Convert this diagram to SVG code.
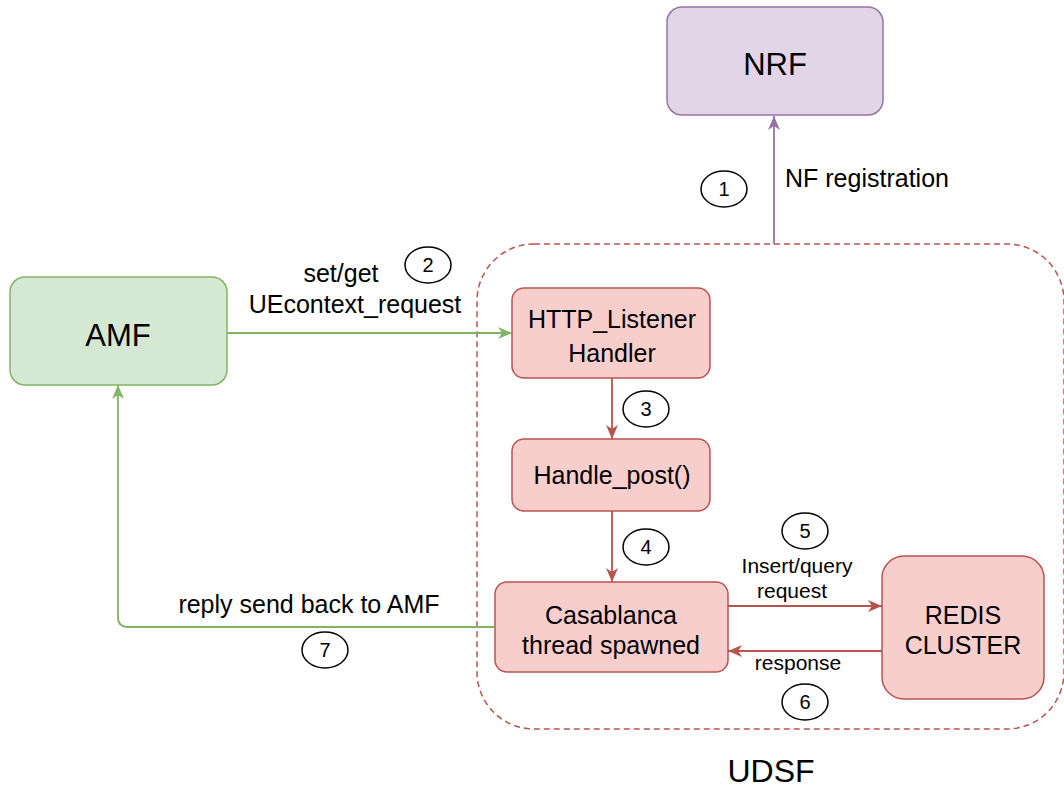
<svg xmlns="http://www.w3.org/2000/svg" width="1064" height="787" viewBox="0 0 1064 787">
<style>
text{font-family:"Liberation Sans",Arial,sans-serif;fill:#000;text-anchor:middle}
.lbl{font-size:25px}
.big{font-size:31px}
.num{font-size:20px}
.sm{font-size:21px}
.red{fill:#f8cecc;stroke:#b85450;stroke-width:1.5}
.c{fill:#fff;stroke:#000;stroke-width:1.5}
.e{fill:none;stroke-width:1.8}
</style>
<defs>
<marker id="ap" markerUnits="userSpaceOnUse" markerWidth="14" markerHeight="12" refX="14" refY="6" orient="auto"><path d="M0,0 L14,6 L0,12 L4,6 Z" fill="#9673a6"/></marker>
<marker id="ag" markerUnits="userSpaceOnUse" markerWidth="14" markerHeight="12" refX="14" refY="6" orient="auto"><path d="M0,0 L14,6 L0,12 L4,6 Z" fill="#82b366"/></marker>
<marker id="ar" markerUnits="userSpaceOnUse" markerWidth="14" markerHeight="12" refX="14" refY="6" orient="auto"><path d="M0,0 L14,6 L0,12 L4,6 Z" fill="#b85450"/></marker>
</defs>
<rect width="1064" height="787" fill="#fff"/>
<g id="udsf">
<rect x="477" y="244" width="587" height="485" rx="57" fill="none" stroke="#b85450" stroke-width="1.5" stroke-dasharray="6 4"/>
<text x="771" y="782" style="font-size:32px">UDSF</text>
</g>
<g id="nrf">
<rect x="667" y="7" width="216" height="108" rx="15" fill="#e1d5e7" stroke="#9673a6" stroke-width="1.5"/>
<text class="big" x="775" y="75">NRF</text>
</g>
<g id="amf">
<rect x="10" y="277" width="217" height="108" rx="15" fill="#d5e8d4" stroke="#82b366" stroke-width="1.5"/>
<text class="big" x="118" y="346">AMF</text>
</g>
<g id="http">
<rect class="red" x="512" y="288" width="198" height="90" rx="12"/>
<text class="lbl" x="612" y="328">HTTP_Listener</text>
<text class="lbl" x="612" y="362">Handler</text>
</g>
<g id="handlepost">
<rect class="red" x="512" y="439" width="198" height="72" rx="12"/>
<text class="lbl" x="612" y="484">Handle_post()</text>
</g>
<g id="casablanca">
<rect class="red" x="495" y="582" width="233" height="90" rx="12"/>
<text class="lbl" x="611" y="624">Casablanca</text>
<text class="lbl" x="611" y="654">thread spawned</text>
</g>
<g id="redis">
<rect class="red" x="882" y="556" width="162" height="143" rx="22"/>
<text class="lbl" x="963" y="624">REDIS</text>
<text class="lbl" x="963" y="654">CLUSTER</text>
</g>
<g id="connectors">
<path class="e" d="M774,244 V116" stroke="#9673a6" marker-end="url(#ap)"/>
<path class="e" d="M227,333 H512" stroke="#82b366" marker-end="url(#ag)"/>
<path class="e" d="M612,378 V439" stroke="#b85450" marker-end="url(#ar)"/>
<path class="e" d="M612,511 V582" stroke="#b85450" marker-end="url(#ar)"/>
<path class="e" d="M728,606 H882" stroke="#b85450" marker-end="url(#ar)"/>
<path class="e" d="M882,651 H728" stroke="#b85450" marker-end="url(#ar)"/>
<path class="e" d="M495,627 H128 Q118,627 118,617 V385" stroke="#82b366" marker-end="url(#ag)"/>
<text class="lbl" x="785" y="187" style="text-anchor:start">NF registration</text>
<text class="lbl" x="341" y="282">set/get</text>
<text class="lbl" x="355" y="313">UEcontext_request</text>
<text class="sm" x="797" y="573">Insert/query</text>
<text class="sm" x="792" y="598">request</text>
<text class="sm" x="798" y="670">response</text>
<text class="lbl" x="309" y="613">reply send back to AMF</text>
</g>
<g id="steps">
<ellipse class="c" cx="724" cy="189" rx="23" ry="18"/><text class="num" x="724" y="196">1</text>
<ellipse class="c" cx="428" cy="265" rx="23" ry="18"/><text class="num" x="428" y="272">2</text>
<ellipse class="c" cx="646" cy="409" rx="23" ry="18"/><text class="num" x="646" y="416">3</text>
<ellipse class="c" cx="646" cy="547" rx="23" ry="18"/><text class="num" x="646" y="554">4</text>
<ellipse class="c" cx="805" cy="531" rx="23" ry="18"/><text class="num" x="805" y="538">5</text>
<ellipse class="c" cx="805" cy="702" rx="23" ry="18"/><text class="num" x="805" y="709">6</text>
<ellipse class="c" cx="325" cy="650" rx="23" ry="18"/><text class="num" x="325" y="657">7</text>
</g>
</svg>
